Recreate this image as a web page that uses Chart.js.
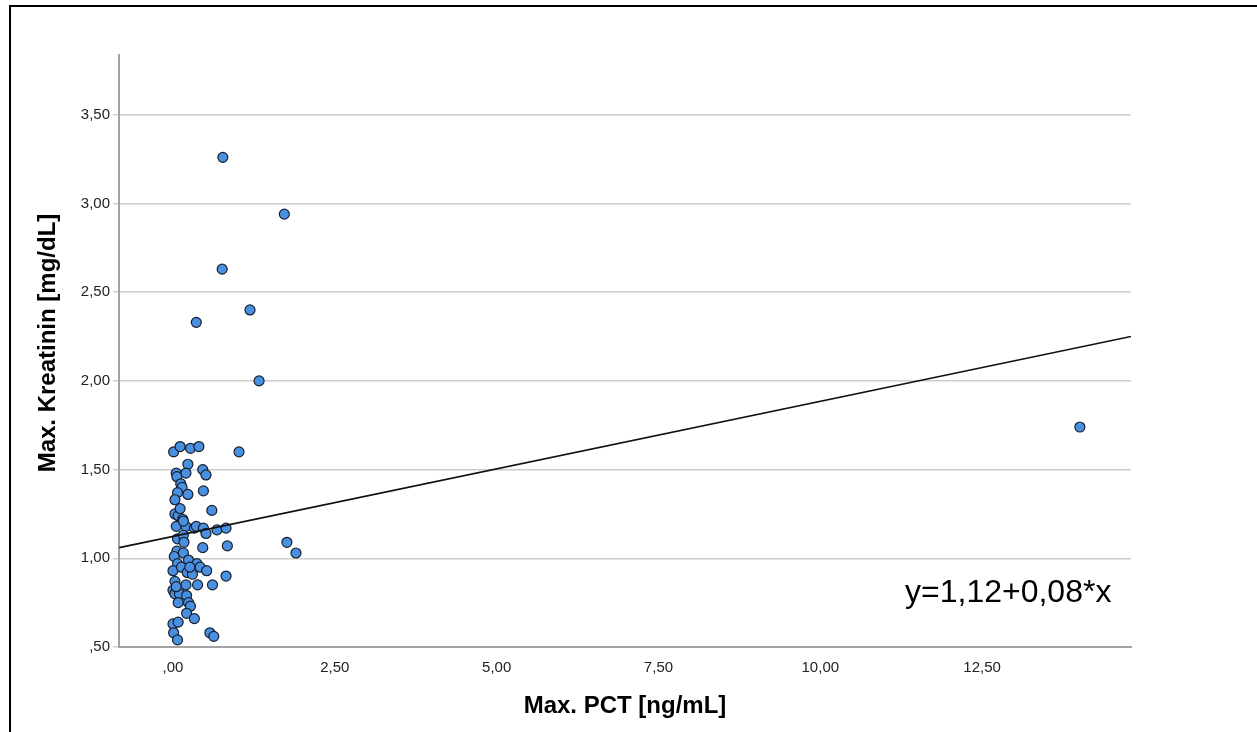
<!DOCTYPE html>
<html>
<head>
<meta charset="utf-8">
<script src="https://cdn.jsdelivr.net/npm/chart.js@4"></script>
<style>
  html, body { margin: 0; padding: 0; background: #fff; }
  #wrap { position: relative; width: 1257px; height: 732px; overflow: hidden; }
  #frame { position: absolute; left: 9px; top: 5px; width: 1300px; height: 800px;
           border-top: 2px solid #000; border-left: 2px solid #000; pointer-events: none; }
  canvas { position: absolute; left: 0; top: 0; }
</style>
</head>
<body>
<div id="wrap">
  <canvas id="grafico" width="1257" height="732"></canvas>
  <div id="frame"></div>
</div>
<script>
// Max. PCT [ng/mL] (x) und Max. Kreatinin [mg/dL] (y), je Fall
const pctWerte = [
  0.77, 1.72, 0.76, 1.19, 0.36, 1.33, 1.02, 14.01, 1.76, 1.90,
  0.01, 0.11, 0.27, 0.40, 0.23, 0.05, 0.06, 0.20, 0.46, 0.51,
  0.12, 0.14, 0.23, 0.07, 0.03, 0.47, 0.60, 0.03, 0.08, 0.15,
  0.05, 0.20, 0.33, 0.36, 0.47, 0.51, 0.68, 0.82, 0.07, 0.16,
  0.46, 0.84, 0.06, 0.02, 0.16, 0.07, 0.24, 0.37, 0.00, 0.13,
  0.22, 0.30, 0.42, 0.52, 0.82, 0.03, 0.20, 0.38, 0.61, 0.00,
  0.03, 0.10, 0.21, 0.08, 0.24, 0.27, 0.21, 0.33, 0.00, 0.08,
  0.01, 0.07, 0.57, 0.63, 0.16, 0.26, 0.05, 0.11, 0.17
];
const kreatininWerte = [
  3.26, 2.94, 2.63, 2.40, 2.33, 2.00, 1.60, 1.74, 1.09, 1.03,
  1.60, 1.63, 1.62, 1.63, 1.53, 1.48, 1.46, 1.48, 1.50, 1.47,
  1.42, 1.40, 1.36, 1.37, 1.33, 1.38, 1.27, 1.25, 1.24, 1.22,
  1.18, 1.18, 1.17, 1.18, 1.17, 1.14, 1.16, 1.17, 1.11, 1.13,
  1.06, 1.07, 1.04, 1.01, 1.03, 0.97, 0.99, 0.97, 0.93, 0.95,
  0.92, 0.91, 0.95, 0.93, 0.90, 0.87, 0.85, 0.85, 0.85, 0.82,
  0.80, 0.80, 0.79, 0.75, 0.75, 0.73, 0.69, 0.66, 0.63, 0.64,
  0.58, 0.54, 0.58, 0.56, 1.21, 0.95, 0.84, 1.28, 1.09
];

// Regressionsgerade (Anfangs- und Endpunkt)
const linieX = [-0.83, 14.8];
const linieY = [1.06, 2.25];

// Achsenbeschriftungen
const xTicks = [0, 2.5, 5, 7.5, 10, 12.5];
const xTickLabels = [',00', '2,50', '5,00', '7,50', '10,00', '12,50'];
const yTicks = [0.5, 1, 1.5, 2, 2.5, 3, 3.5];
const yTickLabels = [',50', '1,00', '1,50', '2,00', '2,50', '3,00', '3,50'];

const gleichung = 'y=1,12+0,08*x';
const yTitel = 'Max. Kreatinin [mg/dL]';

Chart.defaults.font.family = '"Liberation Sans", Arial, sans-serif';
Chart.defaults.color = '#222';

const punkte = pctWerte.map((x, i) => ({ x: x, y: kreatininWerte[i] }));
const linie = linieX.map((x, i) => ({ x: x, y: linieY[i] }));

// Gleichung unten rechts und Titel der y-Achse
const textPlugin = {
  id: 'texte',
  afterDraw(chart) {
    const ctx = chart.ctx;
    ctx.save();
    ctx.font = '32px "Liberation Sans", Arial, sans-serif';
    ctx.fillStyle = '#000';
    ctx.textBaseline = 'alphabetic';
    ctx.textAlign = 'left';
    ctx.fillText(gleichung, 905, 602);

    ctx.translate(48, 343);
    ctx.rotate(-Math.PI / 2);
    ctx.font = 'bold 24px "Liberation Sans", Arial, sans-serif';
    ctx.textAlign = 'center';
    ctx.textBaseline = 'middle';
    ctx.fillText(yTitel, 0, 0);
    ctx.restore();
  }
};

const ctx = document.getElementById('grafico').getContext('2d');
new Chart(ctx, {
  type: 'scatter',
  data: {
    datasets: [
      {
        type: 'line',
        data: linie,
        borderColor: '#111',
        borderWidth: 1.6,
        pointRadius: 0,
        fill: false,
        order: 0
      },
      {
        data: punkte,
        backgroundColor: '#4a90e2',
        borderColor: '#18202b',
        borderWidth: 1.2,
        pointRadius: 5,
        order: 1
      }
    ]
  },
  options: {
    responsive: false,
    animation: false,
    layout: { padding: { top: 55, right: 126, left: 0, bottom: 0 } },
    plugins: {
      legend: { display: false },
      tooltip: { enabled: false }
    },
    scales: {
      x: {
        type: 'linear',
        min: -0.834,
        max: 14.8,
        afterFit: (scale) => { scale.height = 85; },
        afterBuildTicks: (scale) => { scale.ticks = xTicks.map(v => ({ value: v })); },
        ticks: {
          padding: 12,
          font: { size: 15 },
          color: '#222',
          callback: (value) => xTickLabels[xTicks.indexOf(value)]
        },
        grid: { display: false, drawTicks: false },
        border: { color: '#a3a3a3', width: 2 },
        title: {
          display: true,
          text: 'Max. PCT [ng/mL]',
          color: '#000',
          font: { size: 24, weight: 'bold' },
          padding: { top: 0, bottom: 11 }
        }
      },
      y: {
        type: 'linear',
        min: 0.5,
        max: 3.837,
        afterFit: (scale) => { scale.width = 119; },
        afterBuildTicks: (scale) => { scale.ticks = yTicks.map(v => ({ value: v })); },
        ticks: {
          padding: 3,
          font: { size: 15 },
          color: '#222',
          callback: (value) => yTickLabels[yTicks.indexOf(value)]
        },
        grid: {
          color: '#cdcdcd',
          lineWidth: 1.5,
          drawTicks: true,
          tickLength: 6,
          tickColor: '#cdcdcd'
        },
        border: { color: '#a3a3a3', width: 2 },
        title: { display: false }
      }
    }
  },
  plugins: [textPlugin]
});
</script>
</body>
</html>
